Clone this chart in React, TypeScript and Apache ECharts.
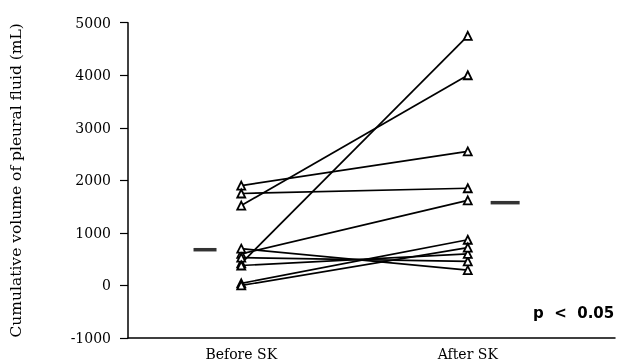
import React, { useEffect, useRef } from "react";
import * as echarts from "echarts";

// Time points (x categories)
const timePoints = ["Before SK", "After SK"];
// Cumulative volume of pleural fluid (mL) per patient
const beforeSK = [1900, 1750, 1520, 420, 600, 700, 530, 380, 40, 0];
const afterSK = [2550, 1850, 4000, 4750, 1620, 290, 460, 600, 870, 720];
// Group means (horizontal dashes)
const means = [680, 1575];
// Y axis ticks
const yTicks = [-1000, 0, 1000, 2000, 3000, 4000, 5000];
const pLabel = "p  <  0.05";

export default function App() {
  const ref = useRef<HTMLDivElement>(null);
  useEffect(() => {
    if (!ref.current) return;
    const chart = echarts.init(ref.current, null, { renderer: "svg" });
    const serif = "DejaVu Serif";
    const patientSeries = beforeSK.map((b, i) => ({
      type: "line",
      data: [
        [0, b],
        [1, afterSK[i]],
      ],
      symbol: "triangle",
      symbolSize: 8,
      lineStyle: { color: "#000", width: 1.7 },
      itemStyle: { color: "#fff", borderColor: "#000", borderWidth: 1.8 },
      z: 3,
    }));
    const meanOffset = [-0.16, 0.165];
    const meanWidth = [23, 29];
    chart.setOption({
      animation: false,
      grid: { left: 127, right: 2, top: 22.7, bottom: 24 },
      xAxis: {
        type: "value",
        min: -0.5,
        max: 1.65,
        interval: 0.5,
        splitLine: { show: false },
        axisTick: { show: false },
        axisLine: { show: true, onZero: false, lineStyle: { color: "#000", width: 1.5 } },
        axisLabel: {
          margin: 9,
          fontFamily: serif,
          fontSize: 14,
          color: "#000",
          showMaxLabel: false,
          formatter: (v: number) => {
            const idx = timePoints.findIndex((_, k) => Math.abs(v - k) < 1e-6);
            return idx >= 0 ? timePoints[idx] : "";
          },
        },
      },
      yAxis: {
        type: "value",
        min: yTicks[0],
        max: yTicks[yTicks.length - 1],
        interval: 1000,
        name: "Cumulative volume of pleural fluid (mL)",
        nameLocation: "middle",
        nameGap: 104,
        nameTextStyle: { fontFamily: serif, fontSize: 15.5, color: "#000" },
        splitLine: { show: false },
        axisLine: { show: true, onZero: false, lineStyle: { color: "#000", width: 1.5 } },
        axisTick: { show: true, length: 8, lineStyle: { color: "#000", width: 1.2 } },
        axisLabel: {
          margin: 17,
          fontFamily: serif,
          fontSize: 14,
          color: "#000",
          formatter: (v: number) => String(v),
        },
      },
      series: [
        ...patientSeries,
        {
          type: "scatter",
          symbol: "rect",
          data: means.map((m, i) => ({
            value: [i + meanOffset[i], m],
            symbolSize: [meanWidth[i], 3.5],
          })),
          itemStyle: { color: "#000" },
          z: 4,
        },
      ],
      graphic: [
        {
          type: "text",
          left: 533,
          top: 305,
          style: {
            text: pLabel,
            fontFamily: "DejaVu Sans",
            fontWeight: "bold",
            fontSize: 15,
            fill: "#000",
          },
        },
      ],
    });
    return () => chart.dispose();
  }, []);
  return (
    <div
      ref={ref}
      style={{ position: "fixed", left: 0, top: 0, width: 617, height: 362 }}
    />
  );
}
